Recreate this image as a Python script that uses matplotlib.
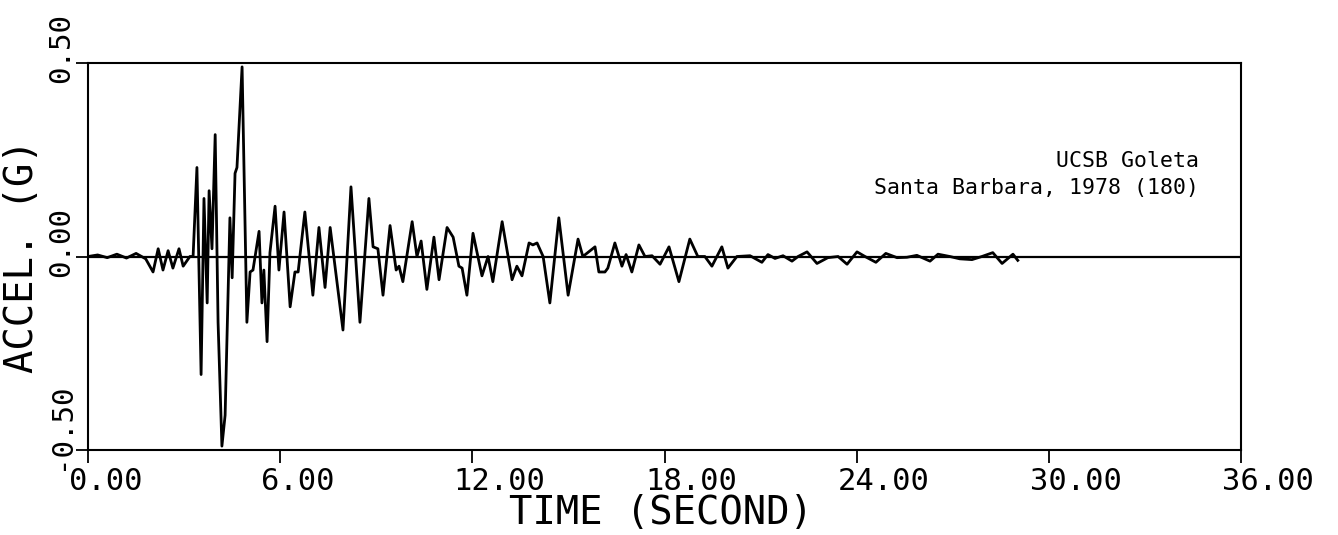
import matplotlib
matplotlib.use("Agg")
import matplotlib.pyplot as plt
from matplotlib.transforms import offset_copy

# ground acceleration record (time in s, accel in g), read peak to peak
time_s = [0.00, 0.30, 0.60, 0.90, 1.20, 1.50, 1.80,
          2.03, 2.19, 2.34, 2.50, 2.65, 2.84, 2.97, 3.18,
          3.28, 3.40, 3.53, 3.62, 3.72, 3.78, 3.87, 3.97, 4.06, 4.18,
          4.28, 4.43, 4.50, 4.59, 4.65, 4.81, 4.96, 5.06, 5.15, 5.34,
          5.43, 5.49, 5.59, 5.68, 5.84, 5.96, 6.12, 6.31, 6.46, 6.56,
          6.77, 7.02, 7.21, 7.40, 7.56, 7.96, 8.21, 8.49, 8.77, 8.90,
          9.05, 9.21, 9.43, 9.62, 9.71, 9.83, 10.12, 10.27, 10.40, 10.58,
          10.80, 10.96, 11.21, 11.40, 11.58, 11.68, 11.83, 12.02, 12.30,
          12.49, 12.64, 12.93, 13.24, 13.39, 13.55, 13.77, 13.89, 14.02,
          14.21, 14.42, 14.70, 14.99, 15.30, 15.45, 15.83, 15.95, 16.14,
          16.23, 16.45, 16.67, 16.80, 16.98, 17.20, 17.39, 17.61, 17.86,
          18.14, 18.45, 18.79, 19.04, 19.26, 19.48, 19.79, 19.98, 20.26,
          20.67, 21.04, 21.23, 21.45, 21.70, 21.98, 22.17, 22.45, 22.76,
          23.10, 23.42, 23.70, 24.01, 24.26, 24.60, 24.91, 25.26, 25.57,
          25.88, 26.29, 26.54, 26.91, 27.22, 27.60, 27.91, 28.25, 28.54,
          28.88, 29.03]
accel_g = [0.000, 0.004, -0.003, 0.006, -0.004, 0.008, -0.006,
           -0.040, 0.020, -0.035, 0.015, -0.030, 0.020, -0.025, 0.000,
           0.000, 0.230, -0.305, 0.150, -0.120, 0.170, 0.020, 0.315, -0.170, -0.490,
           -0.410, 0.100, -0.055, 0.215, 0.230, 0.490, -0.170, -0.040, -0.035, 0.065,
           -0.120, -0.035, -0.220, 0.010, 0.130, -0.035, 0.115, -0.130, -0.040, -0.040,
           0.115, -0.100, 0.075, -0.080, 0.075, -0.190, 0.180, -0.170, 0.150, 0.025,
           0.020, -0.100, 0.080, -0.035, -0.025, -0.065, 0.090, 0.000, 0.040, -0.085,
           0.050, -0.060, 0.075, 0.050, -0.025, -0.030, -0.100, 0.060, -0.050,
           0.000, -0.065, 0.090, -0.060, -0.025, -0.050, 0.035, 0.030, 0.035,
           0.000, -0.120, 0.100, -0.100, 0.045, 0.000, 0.025, -0.040, -0.040,
           -0.030, 0.035, -0.025, 0.005, -0.040, 0.030, 0.000, 0.002, -0.020,
           0.025, -0.065, 0.045, 0.000, 0.000, -0.025, 0.025, -0.030, 0.000,
           0.002, -0.015, 0.005, -0.005, 0.002, -0.012, 0.000, 0.012, -0.018,
           -0.003, 0.000, -0.020, 0.012, 0.000, -0.015, 0.008, -0.003, -0.002,
           0.003, -0.012, 0.006, 0.000, -0.006, -0.008, 0.000, 0.010, -0.018,
           0.006, -0.010]

xticks = [0, 6, 12, 18, 24, 30, 36]
xtick_labels = ["0.00", "6.00", "12.00", "18.00", "24.00", "30.00", "36.00"]
yticks = [-0.5, 0.0, 0.5]
ytick_labels = ["-0.50", "0.00", "0.50"]

mono = "DejaVu Sans Mono"

fig = plt.figure(figsize=(13.38, 5.35), dpi=100)
ax = fig.add_axes([0.0658, 0.1589, 0.8617, 0.7233])

ax.plot(time_s, accel_g, color="black", lw=2.0, solid_joinstyle="round")
ax.axhline(0, color="black", lw=1.6)

ax.set_xlim(0, 36)
ax.set_ylim(-0.5, 0.5)
for sp in ax.spines.values():
    sp.set_linewidth(1.5)

ax.set_xticks(xticks)
ax.set_yticks(yticks)
ax.set_xticklabels([])
ax.set_yticklabels([])
ax.tick_params(axis="both", direction="out", length=9, width=1.3, color="black")

# tick labels drawn by hand: x labels start left of the tick, y labels run upward
xt = offset_copy(ax.get_xaxis_transform(), fig=fig, x=-19, y=-17, units="dots")
for v, s in zip(xticks, xtick_labels):
    ax.text(v, 0, s, transform=xt, ha="left", va="top", fontsize=22, family=mono)

yt = offset_copy(ax.get_yaxis_transform(), fig=fig, x=-27, y=-20, units="dots")
for v, s in zip(yticks, ytick_labels):
    ax.text(0, v, s, transform=yt, rotation=90, ha="center", va="bottom",
            fontsize=21, family=mono)

ylab = offset_copy(ax.get_yaxis_transform(), fig=fig, x=-66, y=0, units="dots")
ax.text(0, 0.0, "ACCEL. (G)", transform=ylab, rotation=90, ha="center", va="center",
        fontsize=28, family=mono)
fig.text(661 / 1338, 1 - 513 / 535, "TIME (SECOND)", ha="center", va="center",
         fontsize=28, family=mono)

ax.text(0.964, 0.248, "UCSB Goleta", transform=ax.get_yaxis_transform(),
        ha="right", va="center", fontsize=15.5, family=mono)
ax.text(0.964, 0.176, "Santa Barbara, 1978 (180)", transform=ax.get_yaxis_transform(),
        ha="right", va="center", fontsize=15.5, family=mono)

fig.savefig("out.png", dpi=100)
